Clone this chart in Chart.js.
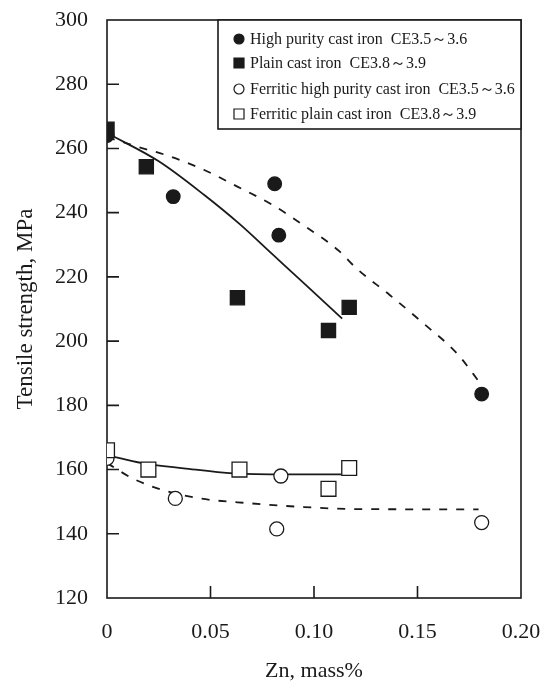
<!DOCTYPE html>
<html>
<head>
<meta charset="utf-8">
<script src="https://cdn.jsdelivr.net/npm/chart.js@4.4.1/dist/chart.umd.min.js"></script>
<style>
html,body{margin:0;padding:0;background:#fff;}
#wrap{width:548px;height:684px;}
</style>
</head>
<body>
<div id="wrap"><canvas id="c" width="548" height="684"></canvas></div>
<script>
// ---- data ----
const xTicks = [0, 0.05, 0.10, 0.15, 0.20];
const xTickLabels = ['0', '0.05', '0.10', '0.15', '0.20'];
const yTicks = [120, 140, 160, 180, 200, 220, 240, 260, 280, 300];

const seriesLabels = [
  'High purity cast iron  CE3.5\uFF5E3.6',
  'Plain cast iron  CE3.8\uFF5E3.9',
  'Ferritic high purity cast iron  CE3.5\uFF5E3.6',
  'Ferritic plain cast iron  CE3.8\uFF5E3.9'
];

const hpZn = [0, 0.032, 0.081, 0.083, 0.181];
const hpTS = [264, 245, 249, 233, 183.5];

const plainZn = [0, 0.019, 0.063, 0.107, 0.117];
const plainTS = [266, 254.3, 213.5, 203.3, 210.5];

const fhpZn = [0, 0.033, 0.082, 0.084, 0.181];
const fhpTS = [163.5, 151, 141.5, 158, 143.5];

const fplZn = [0, 0.020, 0.064, 0.107, 0.117];
const fplTS = [166, 160, 160, 154, 160.5];

// fitted curves
const fitUpperSolidZn = [0, 0.025, 0.047, 0.064, 0.080, 0.096, 0.1136];
const fitUpperSolidTS = [264.8, 256, 245.5, 236.5, 227, 217.5, 207];

const fitUpperDashZn = [0, 0.015, 0.031, 0.047, 0.063, 0.080, 0.096, 0.1117, 0.1206, 0.1367, 0.1529, 0.169, 0.181];
const fitUpperDashTS = [263.5, 260.5, 257.4, 253.3, 248.1, 242.4, 235.6, 228.3, 222.6, 214.3, 205.5, 196.2, 186.3];

const fitLowerSolidZn = [0, 0.017, 0.037, 0.061, 0.087, 0.1133];
const fitLowerSolidTS = [164.5, 162, 160.4, 158.8, 158.5, 158.5];

const fitLowerDashZn = [0, 0.0125, 0.027, 0.045, 0.069, 0.093, 0.119, 0.1795];
const fitLowerDashTS = [162, 157.2, 153.6, 151, 149.5, 148.4, 147.7, 147.6];

const pts = (xs, ys) => xs.map((x, i) => ({x: x, y: ys[i]}));
const INK = '#1a1a1a';
const FONT = "'Liberation Serif', 'Times New Roman', serif";

const frameAndTicks = {
  id: 'frameAndTicks',
  beforeDatasetsDraw(chart) {
    const {ctx, chartArea: a, scales} = chart;
    ctx.save();
    ctx.strokeStyle = INK;
    ctx.lineWidth = 1.6;
    ctx.strokeRect(a.left, a.top, a.right - a.left, a.bottom - a.top);
    const L = 12;
    ctx.beginPath();
    scales.y.ticks.forEach(t => {
      if (t.value <= scales.y.min || t.value >= scales.y.max) return;
      const py = scales.y.getPixelForValue(t.value);
      ctx.moveTo(a.left, py); ctx.lineTo(a.left + L, py);
    });
    scales.x.ticks.forEach(t => {
      if (t.value <= scales.x.min || t.value >= scales.x.max) return;
      const px = scales.x.getPixelForValue(t.value);
      ctx.moveTo(px, a.bottom); ctx.lineTo(px, a.bottom - L);
    });
    ctx.stroke();
    ctx.restore();
  }
};

const boxLegend = {
  id: 'boxLegend',
  afterDraw(chart) {
    const {ctx, chartArea: a} = chart;
    const W = 303, H = 109;
    const bx = a.right - W, by = a.top;
    ctx.save();
    ctx.fillStyle = '#fff';
    ctx.fillRect(bx, by, W, H);
    ctx.strokeStyle = INK;
    ctx.lineWidth = 1.6;
    ctx.strokeRect(bx, by, W, H);
    const rows = [19, 43, 69, 94];
    ctx.font = '16px ' + FONT;
    ctx.textBaseline = 'middle';
    ctx.textAlign = 'left';
    const items = chart.data.datasets.filter(ds => ds.legendIndex !== undefined)
      .sort((p, q) => p.legendIndex - q.legendIndex);
    items.forEach((ds, k) => {
      const cy = by + rows[k];
      const cx = bx + 21;
      ctx.lineWidth = 1.2;
      ctx.strokeStyle = INK;
      ctx.fillStyle = ds.backgroundColor;
      ctx.beginPath();
      if (ds.pointStyle === 'circle') {
        ctx.arc(cx, cy, 5, 0, Math.PI * 2);
      } else {
        ctx.rect(cx - 5, cy - 5, 10, 10);
      }
      ctx.fill();
      ctx.stroke();
      ctx.fillStyle = INK;
      ctx.fillText(ds.label, bx + 32, cy + 1);
    });
    ctx.restore();
  }
};

const scatterDs = (idx, xs, ys, style, filled, r) => ({
  type: 'scatter', label: seriesLabels[idx], legendIndex: idx, data: pts(xs, ys),
  pointStyle: style, pointRadius: r, pointHoverRadius: r,
  backgroundColor: filled ? INK : '#ffffff', borderColor: INK,
  pointBorderWidth: 1.3, order: 0
});
const fitDs = (xs, ys, dashed) => ({
  type: 'line', label: '', data: pts(xs, ys),
  borderColor: INK, borderWidth: 1.8, borderDash: dashed ? [8, 9] : [],
  pointRadius: 0, fill: false, cubicInterpolationMode: 'monotone', order: 5
});

new Chart(document.getElementById('c'), {
  data: {
    datasets: [
      scatterDs(1, plainZn, plainTS, 'rect', true, 10),
      scatterDs(0, hpZn, hpTS, 'circle', true, 6.8),
      scatterDs(3, fplZn, fplTS, 'rect', false, 10.5),
      scatterDs(2, fhpZn, fhpTS, 'circle', false, 7),
      fitDs(fitUpperSolidZn, fitUpperSolidTS, false),
      fitDs(fitUpperDashZn, fitUpperDashTS, true),
      fitDs(fitLowerSolidZn, fitLowerSolidTS, false),
      fitDs(fitLowerDashZn, fitLowerDashTS, true)
    ]
  },
  options: {
    responsive: false,
    animation: false,
    layout: {padding: {top: 20, right: 27, left: 0, bottom: 0}},
    plugins: {legend: {display: false}, tooltip: {enabled: false}},
    scales: {
      x: {
        type: 'linear', min: 0, max: 0.2,
        afterBuildTicks: s => { s.ticks = xTicks.map(v => ({value: v})); },
        afterFit: s => { s.height = 86; s.paddingRight = 0; s.paddingLeft = 0; },
        grid: {display: false}, border: {display: false},
        ticks: {
          color: INK, padding: 13, maxRotation: 0,
          font: {family: FONT, size: 22},
          callback: (v, i) => xTickLabels[i]
        },
        title: {display: true, text: 'Zn, mass%', color: INK, font: {family: FONT, size: 22}, padding: {top: 0, bottom: 0}}
      },
      y: {
        type: 'linear', min: 120, max: 300,
        afterBuildTicks: s => { s.ticks = yTicks.map(v => ({value: v})); },
        afterFit: s => { s.width = 107; s.paddingTop = 0; s.paddingBottom = 0; },
        grid: {display: false}, border: {display: false},
        ticks: {color: INK, padding: 11, font: {family: FONT, size: 22}},
        title: {display: true, text: 'Tensile strength, MPa', color: INK, font: {family: FONT, size: 23}, padding: {top: 12, bottom: 0}}
      }
    }
  },
  plugins: [frameAndTicks, boxLegend]
});
</script>
</body>
</html>
